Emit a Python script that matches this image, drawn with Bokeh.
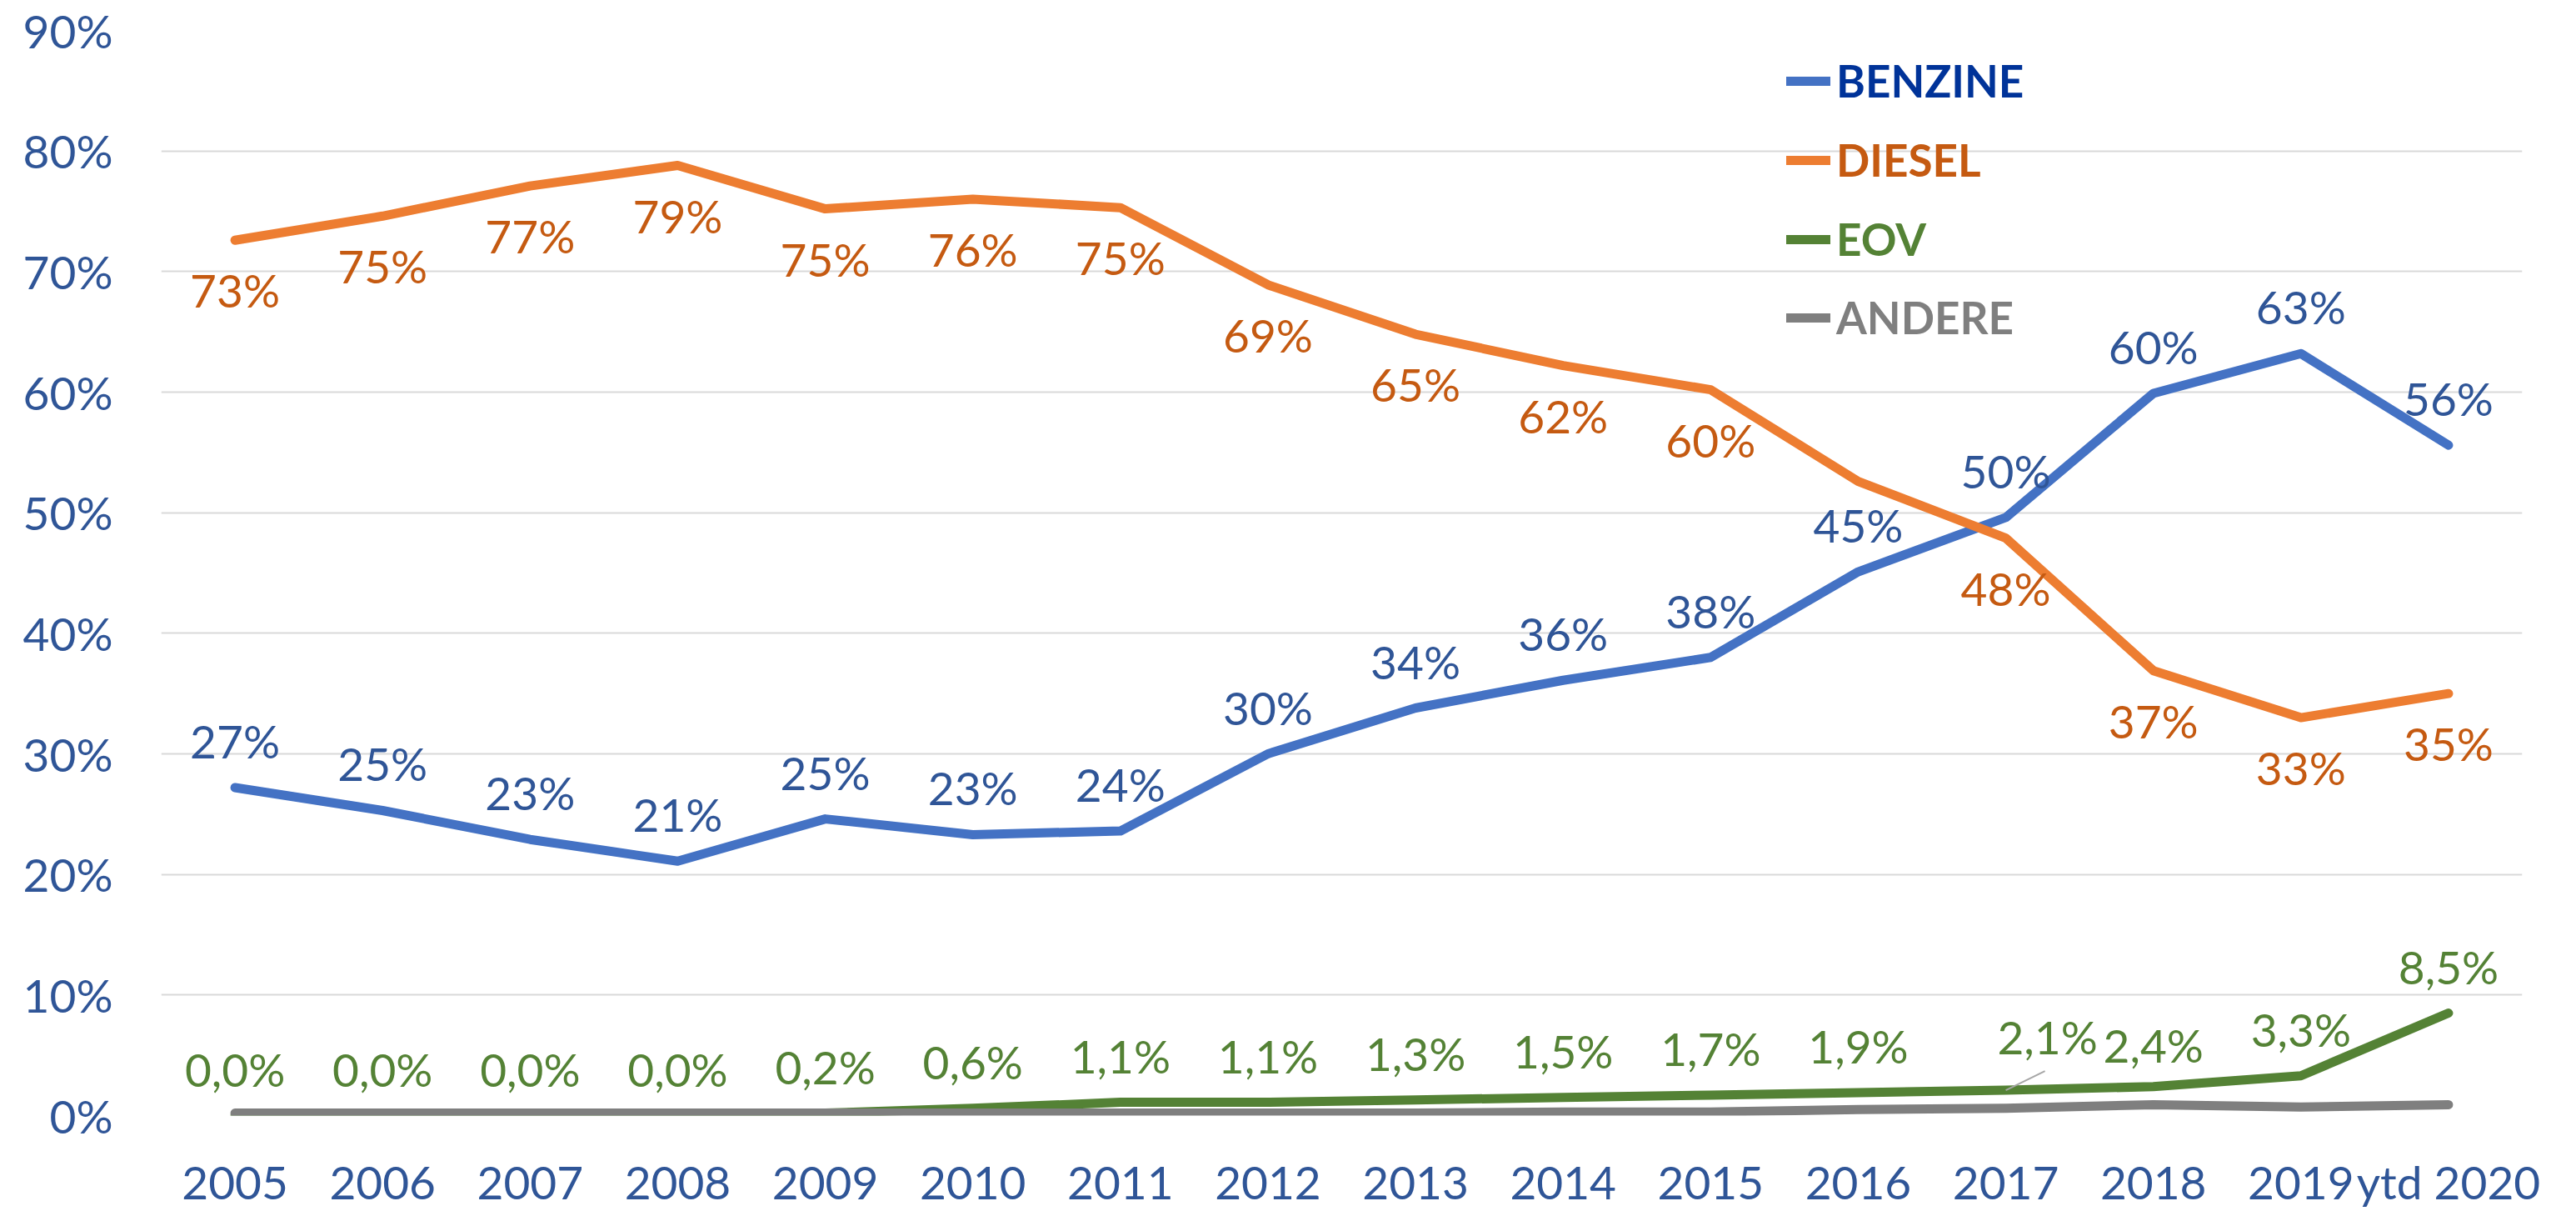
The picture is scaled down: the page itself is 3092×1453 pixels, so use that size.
from bokeh.plotting import figure
from bokeh.models import (FactorRange, Range1d, FixedTicker, PrintfTickFormatter,
                          ColumnDataSource, Legend, LegendItem)
from bokeh.core.properties import value
from bokeh.embed import file_html
from bokeh.resources import INLINE

# ---------------- data ----------------
categories = ["2005", "2006", "2007", "2008", "2009", "2010", "2011", "2012",
              "2013", "2014", "2015", "2016", "2017", "2018", "2019", "ytd 2020"]
benzine = [27.2, 25.3, 22.9, 21.1, 24.6, 23.3, 23.6, 30.0, 33.8, 36.1, 38.0,
           45.1, 49.6, 59.9, 63.2, 55.6]
diesel = [72.6, 74.6, 77.1, 78.8, 75.2, 76.0, 75.3, 68.9, 64.8, 62.2, 60.2,
          52.6, 47.9, 36.9, 33.0, 35.0]
eov = [0.0, 0.0, 0.0, 0.0, 0.2, 0.6, 1.1, 1.1, 1.3, 1.5, 1.7, 1.9, 2.1, 2.4,
       3.3, 8.5]
andere = [0.2, 0.2, 0.2, 0.2, 0.2, 0.2, 0.2, 0.2, 0.2, 0.3, 0.3, 0.5, 0.6,
          0.9, 0.7, 0.9]
series_names = ["BENZINE", "DIESEL", "EOV", "ANDERE"]
diesel_hidden_label = ["2016"]
y_ticks = [0, 10, 20, 30, 40, 50, 60, 70, 80, 90]

# ---------------- styling ----------------
FONT = "Lato"
W, H = 3092, 1453
BL, BR, BT, BB = 193, 65, 36, 114
FRAME_W = W - BL - BR
FRAME_H = H - BT - BB
AXIS_COLOR = "#2F5597"
line_colors = ["#4472C4", "#ED7D31", "#548235", "#7F7F7F"]
label_colors = ["#2F5597", "#C55A11", "#548235", "#7F7F7F"]
legend_colors = ["#003399", "#C55A11", "#548235", "#7F7F7F"]

p = figure(x_range=FactorRange(*categories, range_padding=0),
           y_range=Range1d(0, 90),
           width=W, height=H, output_backend="svg", toolbar_location=None,
           min_border_left=BL, min_border_right=BR,
           min_border_top=BT, min_border_bottom=BB)
p.outline_line_color = None
p.background_fill_color = "white"
p.border_fill_color = "white"
p.xgrid.grid_line_color = None
p.ygrid.grid_line_color = "#D9D9D9"
p.ygrid.grid_line_width = 2
p.yaxis.ticker = FixedTicker(ticks=y_ticks)
p.yaxis.formatter = PrintfTickFormatter(format="%d%%")
for ax in (p.xaxis, p.yaxis):
    ax.axis_line_color = None
    ax.major_tick_line_color = None
    ax.minor_tick_line_color = None
    ax.major_tick_out = 0
    ax.major_tick_in = 0
    ax.minor_tick_out = 0
    ax.major_label_text_font = FONT
    ax.major_label_text_font_size = "55px"
    ax.major_label_text_color = AXIS_COLOR
p.yaxis.major_label_standoff = 58
p.xaxis.major_label_standoff = 46

# ---------------- lines ----------------
renderers = []
for vals, col in zip([benzine, diesel, eov, andere], line_colors):
    r = p.line(categories, vals, line_color=col, line_width=11,
               line_cap="round", line_join="round")
    renderers.append(r)

# leader line for the displaced EOV 2017 label
step_px = FRAME_W / len(categories)
px_per_unit = FRAME_H / 90.0
i17 = categories.index("2017")
lx0 = i17 + 0.5
ly0 = eov[i17]
p.segment(x0=[lx0], y0=[ly0], x1=[lx0 + 47 / step_px], y1=[ly0 + 23 / px_per_unit],
          line_color="#A6A6A6", line_width=2)

# ---------------- data labels ----------------
def pct0(v):
    return f"{round(v):.0f}%"

def pct1(v):
    return f"{v:.1f}".replace(".", ",") + "%"

b_src = ColumnDataSource(dict(x=categories, y=benzine, t=[pct0(v) for v in benzine]))
d_src = ColumnDataSource(dict(x=categories, y=diesel,
                              t=["" if c in diesel_hidden_label else pct0(v)
                                 for c, v in zip(categories, diesel)]))
e_xoff = [50 if c == "2017" else 0 for c in categories]
e_yoff = [-64 if c == "2017" else (-50 if c == "2018" else -56) for c in categories]
e_src = ColumnDataSource(dict(x=categories, y=eov, t=[pct1(v) for v in eov],
                              xo=e_xoff, yo=e_yoff))

common = dict(text_font=value(FONT), text_font_size="55px",
              text_align="center", text_baseline="middle")
p.text(x="x", y="y", text="t", source=b_src, text_color=label_colors[0],
       y_offset=-56, **common)
p.text(x="x", y="y", text="t", source=d_src, text_color=label_colors[1],
       y_offset=60, **common)
p.text(x="x", y="y", text="t", source=e_src, text_color=label_colors[2],
       x_offset="xo", y_offset="yo", **common)

# ---------------- legend (one per entry so each label has its own colour) ----------------
legend_x = 1951
legend_bottoms = [1210, 1115, 1020, 926]
for name, r, col, yb in zip(series_names, renderers, legend_colors, legend_bottoms):
    lg = Legend(items=[LegendItem(label=name, renderers=[r])], location=(legend_x, yb),
                padding=0, margin=0, spacing=0, border_line_color=None,
                background_fill_alpha=0, glyph_width=53, glyph_height=62,
                label_height=62, label_standoff=7,
                label_text_font=FONT, label_text_font_style="bold",
                label_text_font_size="53px", label_text_color=col)
    p.add_layout(lg)

open("out.html", "w").write(file_html(p, INLINE))
